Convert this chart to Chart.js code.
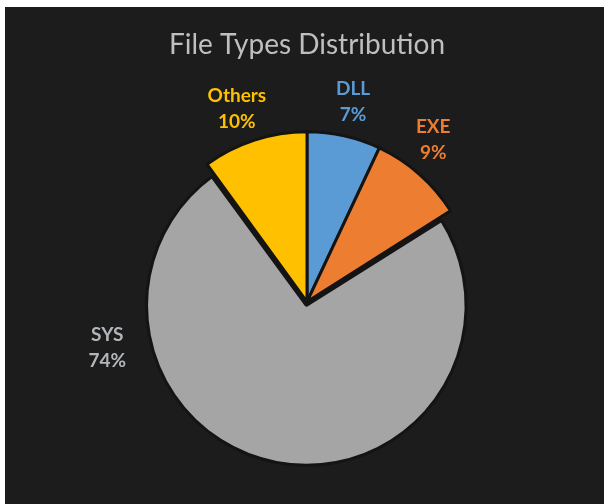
<!DOCTYPE html>
<html><head><meta charset="utf-8">
<script src="https://cdn.jsdelivr.net/npm/chart.js@4"></script>
<style>
html,body{margin:0;padding:0;background:#ffffff;overflow:hidden;width:604px;height:504px;}
#wrap{position:absolute;left:5px;top:7px;width:599px;height:535px;background:#1c1c1c;}
canvas{display:block;}
</style></head><body>
<div id="wrap"><canvas id="c" width="599" height="535"></canvas></div>
<script>
// ---- data ----
const categories = ['DLL', 'EXE', 'SYS', 'Others'];
const shares = [7, 9, 74, 10];
const titleText = 'File Types Distribution';

// ---- styling ----
const sliceColors = ['#5B9BD5', '#ED7D31', '#A5A5A5', '#FFC000'];
const labelColors = ['#5B9BD5', '#ED7D31', '#B2B6BA', '#FFC000'];
const labelAnglesDeg = [13, 38, 257, 340];   // label direction, clockwise from 12 o'clock
const labelDistance = 205;
const pieRadius = 170;
const largestSliceRadius = 156;

const largestShrink = {
  id: 'largestShrink',
  beforeDatasetsDraw(chart) {
    const meta = chart.getDatasetMeta(0);
    const maxI = shares.indexOf(Math.max(...shares));
    if (meta.data[maxI]) meta.data[maxI].outerRadius = largestSliceRadius;
  }
};

const outsideLabels = {
  id: 'outsideLabels',
  afterDatasetsDraw(chart) {
    const meta = chart.getDatasetMeta(0);
    const ctx = chart.ctx;
    const total = shares.reduce((a, b) => a + b, 0);
    const cx = meta.data[0].x, cy = meta.data[0].y;
    meta.data.forEach((arc, i) => {
      const a = labelAnglesDeg[i] * Math.PI / 180;
      const x = cx + labelDistance * Math.sin(a);
      const y = cy - labelDistance * Math.cos(a);
      ctx.save();
      ctx.fillStyle = labelColors[i];
      ctx.font = 'bold 19px Lato';
      ctx.textAlign = 'center';
      ctx.textBaseline = 'middle';
      ctx.fillText(categories[i], x, y - 13);
      ctx.fillText(Math.round(shares[i] / total * 100) + '%', x, y + 13);
      ctx.restore();
    });
  }
};

new Chart(document.getElementById('c'), {
  type: 'pie',
  data: {
    labels: categories,
    datasets: [{
      data: shares,
      backgroundColor: sliceColors,
      borderColor: '#141414',
      borderWidth: 3,
      offset: [0, 0, 15, 0]
    }]
  },
  options: {
    responsive: false,
    animation: false,
    radius: pieRadius,
    layout: { padding: { left: 5 } },
    plugins: {
      legend: { display: false },
      tooltip: { enabled: false },
      title: {
        display: true,
        text: titleText,
        color: '#BFBFBF',
        font: { family: 'Lato', size: 28, weight: 'normal' },
        padding: { top: 21, bottom: 0 }
      }
    }
  },
  plugins: [largestShrink, outsideLabels]
});
</script>
</body></html>
